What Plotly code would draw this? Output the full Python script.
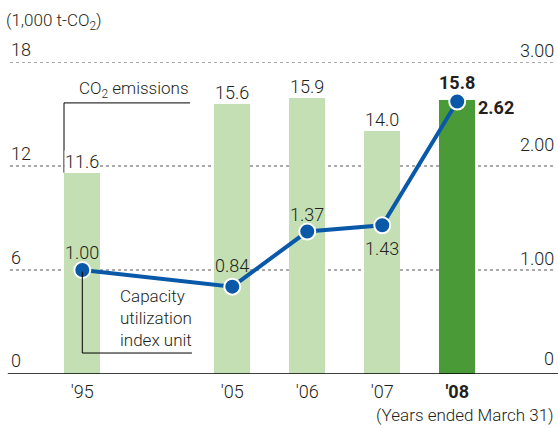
import plotly.graph_objects as go

# ---- data ----
years = ["'95", "'05", "'06", "'07", "'08"]
co2 = [11.6, 15.6, 15.9, 14.0, 15.8]
index_unit = [1.00, 0.84, 1.37, 1.43, 2.62]
left_ticks = [0, 6, 12, 18]
right_ticks = [0, 1.00, 2.00, 3.00]
axis_order = ["'95", " ", "'05", "'06", "'07", "'08"]
highlight = "'08"

FONT = "Roboto, Liberation Sans, sans-serif"
TXT = "#231f20"
LIGHT = "#c4dfb3"
DARK = "#4b9a38"
BLUE = "#0a59a8"
FS = 17

def f(size=FS, bold=False):
    return dict(size=size, color=TXT, family=FONT, weight=(700 if bold else 300))

fig = go.Figure()

fig.add_trace(go.Bar(
    x=years, y=co2, width=0.48,
    marker=dict(color=[DARK if y == highlight else LIGHT for y in years], line=dict(width=0)),
    showlegend=False, hoverinfo="skip",
))

fig.add_trace(go.Scatter(
    x=years, y=index_unit, yaxis="y2", mode="lines+markers",
    line=dict(color=BLUE, width=4),
    marker=dict(size=16, color=BLUE, line=dict(color="white", width=2)),
    showlegend=False, hoverinfo="skip",
))

shapes = []
annotations = []

# dotted gridlines
for t in left_ticks[1:]:
    shapes.append(dict(type="line", xref="paper", yref="y", x0=0.018, x1=0.995, y0=t, y1=t,
                       line=dict(color="#555", width=1, dash="dot"), layer="below"))
# bottom axis line
shapes.append(dict(type="line", xref="paper", yref="y", x0=0.014, x1=1, y0=0, y1=0,
                   line=dict(color="black", width=1.5)))

# left tick labels
for t in left_ticks:
    annotations.append(dict(xref="paper", yref="y", x=0.016, y=t, text=str(t), showarrow=False,
                            xanchor="left", yanchor="bottom", yshift=(0 if t else 1), font=f(18)))
# right tick labels (the reference lifts the 2.00 label higher)
right_lift = {0: 4, 1.0: 0, 2.0: 10, 3.0: 0}
for t in right_ticks:
    annotations.append(dict(xref="paper", yref="y2", x=0.997, y=t,
                            text=("0" if t == 0 else f"{t:.2f}"), showarrow=False,
                            xanchor="right", yanchor="bottom", yshift=-1 + right_lift[t],
                            font=f(18)))

# bar value labels
for y, v in zip(years, co2):
    bold = y == highlight
    annotations.append(dict(x=y, y=v, yref="y", text=(f"<b>{v:.1f}</b>" if bold else f"{v:.1f}"),
                            showarrow=False, yanchor="bottom", yshift=(6 if bold else 0),
                            bgcolor="white", borderpad=0, font=f(18, bold)))

# index labels
label_pos = ["top", "top", "top", "bottom", "right"]
label_dy = [5, 9, 5, -11, -6]
for y, v, p, dy in zip(years, index_unit, label_pos, label_dy):
    bold = y == highlight
    txt = f"<b>{v:.2f}</b>" if bold else f"{v:.2f}"
    a = dict(x=y, y=v, yref="y2", text=txt, showarrow=False, font=f(18, bold), yshift=dy)
    if p == "top":
        a.update(yanchor="bottom")
    elif p == "bottom":
        a.update(yanchor="top")
    else:
        a.update(xanchor="left", xshift=19)
    annotations.append(a)

# unit label
annotations.append(dict(xref="paper", yref="paper", x=0.007, y=1, yshift=41, xanchor="left",
                        yanchor="middle", showarrow=False, text="(1,000 t-CO<sub>2</sub>)",
                        font=f(17)))
# footnote
annotations.append(dict(xref="paper", yref="paper", x=0.996, y=0, yshift=-41, xanchor="right",
                        yanchor="middle", showarrow=False, text="(Years ended March 31)",
                        font=f(17)))

# callout: CO2 emissions
CO2_Y = 15.64
annotations.append(dict(xref="paper", yref="y", x=0.342, y=CO2_Y, yshift=0, xanchor="right",
                        yanchor="bottom", showarrow=False, text="CO<sub>2</sub> emissions",
                        font=f(17)))
shapes.append(dict(type="path", xref="paper", yref="y",
                   path=f"M 0.3405,{CO2_Y} L 0.1147,{CO2_Y} L 0.1147,11.62",
                   line=dict(color="black", width=1)))

# callout: capacity utilization index unit
annotations.append(dict(xref="paper", yref="y", x=0.211, y=1.21, yshift=1, xanchor="left",
                        yanchor="bottom", showarrow=False, align="left",
                        text="Capacity<br>utilization<br>index unit", font=f(17)))
shapes.append(dict(type="path", xref="paper", yref="y",
                   path="M 0.1475,5.9 L 0.1475,1.21 L 0.344,1.21",
                   line=dict(color="black", width=1)))

fig.update_layout(
    width=558, height=428,
    margin=dict(l=0, r=0, t=62, b=54),
    paper_bgcolor="white", plot_bgcolor="white",
    font=dict(family=FONT, color=TXT),
    bargap=0,
    xaxis=dict(type="category", categoryorder="array", categoryarray=axis_order,
               range=[-1.0976, 6.344], showgrid=False, zeroline=False, showline=False,
               tickmode="array", tickvals=years,
               ticktext=[f"<b>{y}</b>" if y == highlight else y for y in years],
               tickfont=f(18), ticks="", ticklabelstandoff=5),
    yaxis=dict(range=[0, 18], showgrid=False, zeroline=False, showticklabels=False,
               fixedrange=True),
    yaxis2=dict(range=[0, 3], overlaying="y", side="right", showgrid=False, zeroline=False,
                showticklabels=False, fixedrange=True),
    shapes=shapes,
    annotations=annotations,
)

fig.write_html("out.html", config={"displayModeBar": False, "staticPlot": True},
               post_script="document.body.style.margin='0px';document.body.style.overflow='hidden';")
